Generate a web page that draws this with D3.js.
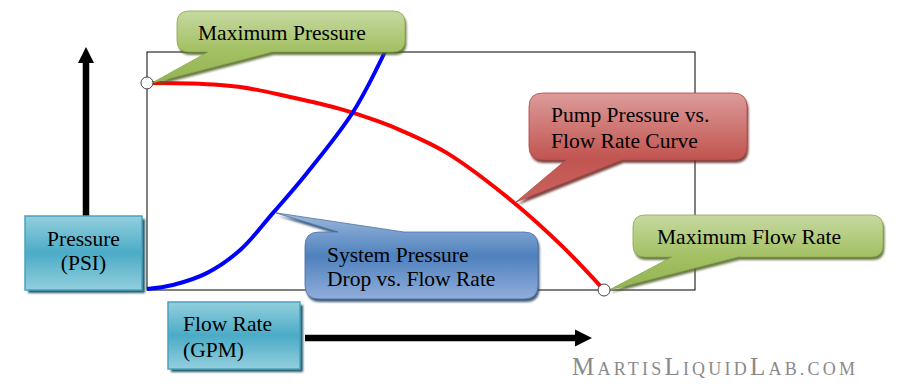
<!DOCTYPE html>
<html>
<head>
<meta charset="utf-8">
<script src="https://cdn.jsdelivr.net/npm/d3@7"></script>
<style>
  html, body { margin: 0; padding: 0; background: #fff; }
  svg { display: block; }
  text { font-family: "Liberation Serif", "Times New Roman", "DejaVu Serif", serif; }
</style>
</head>
<body>
<svg id="chart" width="900" height="391"></svg>
<script>
// ---- data (flow rate % of axis, pressure % of axis) ----
const pumpFlow     = [0, 7.8, 17.0, 26.1, 35.2, 42.5, 46.2, 54.7, 66.8, 75.9, 83.4];
const pumpPressure = [87, 86.8, 85.3, 81.1, 76.1, 70.6, 67.2, 57.6, 37.0, 18.1, 0];
const sysFlow      = [0, 4.7, 10.9, 17.0, 23.0, 29.2, 37.6, 43.4];
const sysPressure  = [0.4, 2.1, 7.1, 16.8, 32.4, 49.2, 74.8, 100];
const axisLabels   = [["Pressure", "(PSI)"], ["Flow Rate", "(GPM)"]];
const calloutTexts = [["Maximum Pressure"], ["Pump Pressure vs.", "Flow Rate Curve"],
                      ["System Pressure", "Drop vs. Flow Rate"], ["Maximum Flow Rate"]];
const watermark    = "MartisLiquidLab.com";

const svg = d3.select("#chart");
const x = d3.scaleLinear().domain([0, 100]).range([147, 695]);
const y = d3.scaleLinear().domain([0, 100]).range([290, 52]);

const pump = pumpFlow.map((f, i) => [f, pumpPressure[i]]);
const sys = sysFlow.map((f, i) => [f, sysPressure[i]]);

// ---- gradients & filters ----
const defs = svg.append("defs");
function grad(id, stops) {
  const g = defs.append("linearGradient").attr("id", id)
    .attr("x1", 0).attr("y1", 0).attr("x2", 0).attr("y2", 1);
  stops.forEach(s => g.append("stop").attr("offset", s[0]).attr("stop-color", s[1]));
}
grad("gGreen", [[0, "#c6d9a1"], [0.55, "#a3c063"], [1, "#94b452"]]);
grad("gRed",   [[0, "#dc9c9a"], [0.6, "#c25551"], [1, "#c8625f"]]);
grad("gBlue",  [[0, "#9db8dc"], [0.5, "#4f81bd"], [1, "#90addb"]]);
grad("gTeal",  [[0, "#93cfde"], [0.5, "#4babc6"], [1, "#93cfde"]]);
defs.append("filter").attr("id", "blur").append("feGaussianBlur").attr("stdDeviation", 0.8);

// ---- plot frame ----
svg.append("rect")
  .attr("x", x(0)).attr("y", y(100))
  .attr("width", x(100) - x(0)).attr("height", y(0) - y(100))
  .attr("fill", "none").attr("stroke", "#000").attr("stroke-width", 1);

// ---- axis arrows ----
function arrow(x1, y1, x2, y2) {
  svg.append("line").attr("x1", x1).attr("y1", y1).attr("x2", x2).attr("y2", y2)
    .attr("stroke", "#000").attr("stroke-width", 6.5);
}
arrow(86, 216, 86, 62);
svg.append("path").attr("d", "M86,47 L94,63 L78,63 Z").attr("fill", "#000");
arrow(305, 338, 576, 338);
svg.append("path").attr("d", "M592,338 L575,329.5 L575,346.5 Z").attr("fill", "#000");

// ---- curves ----
const line = d3.line().x(d => x(d[0])).y(d => y(d[1])).curve(d3.curveCatmullRom.alpha(0.5));
svg.append("path").datum(pump).attr("d", line)
  .attr("fill", "none").attr("stroke", "#ff0000").attr("stroke-width", 4);
svg.append("path").datum(sys).attr("d", line)
  .attr("fill", "none").attr("stroke", "#0000ff").attr("stroke-width", 4);

// ---- callouts ----
function calloutPath(bx, by, w, h, r, side, b1, b2, tip) {
  const p = d3.path();
  p.moveTo(bx + r, by);
  if (side === "top") { p.lineTo(b1, by); p.lineTo(tip[0], tip[1]); p.lineTo(b2, by); }
  p.lineTo(bx + w - r, by);
  p.quadraticCurveTo(bx + w, by, bx + w, by + r);
  p.lineTo(bx + w, by + h - r);
  p.quadraticCurveTo(bx + w, by + h, bx + w - r, by + h);
  if (side === "bottom") { p.lineTo(b2, by + h); p.lineTo(tip[0], tip[1]); p.lineTo(b1, by + h); }
  p.lineTo(bx + r, by + h);
  p.quadraticCurveTo(bx, by + h, bx, by + h - r);
  p.lineTo(bx, by + r);
  p.quadraticCurveTo(bx, by, bx + r, by);
  p.closePath();
  return p.toString();
}
function callout(o) {
  const d = calloutPath(o.x, o.y, o.w, o.h, o.r, o.side, o.b1, o.b2, o.tip);
  svg.append("path").attr("d", d).attr("transform", "translate(1.5,3)")
    .attr("fill", o.shadow).attr("opacity", 0.85).attr("filter", "url(#blur)");
  svg.append("path").attr("d", d).attr("fill", `url(#${o.grad})`)
    .attr("stroke", o.edge).attr("stroke-width", 0.8);
  const t = svg.append("text").attr("font-size", 21.5).attr("fill", "#000")
    .attr("font-family", "Liberation Serif, Times New Roman, serif");
  o.lines.forEach((s, i) => t.append("tspan").attr("x", o.tx).attr("y", o.ty + i * o.lh).text(s));
}
const tipMaxP = [x(pump[0][0]) + 5, y(pump[0][1])];
const tipMaxF = [x(pump[pump.length - 1][0]) + 5, y(pump[pump.length - 1][1])];
const tipPump = [x(pump[8][0]) + 3, y(pump[8][1])];
const tipSys  = [x(sys[4][0]) + 3, y(sys[4][1])];

callout({x: 177, y: 11, w: 228, h: 41, r: 12, side: "bottom", b1: 208, b2: 272, tip: tipMaxP,
  grad: "gGreen", shadow: "#4f6228", edge: "#8aa84c", lines: calloutTexts[0], tx: 198, ty: 40, lh: 26});
callout({x: 529, y: 93, w: 218, h: 67, r: 14, side: "bottom", b1: 566, b2: 622, tip: tipPump,
  grad: "gRed", shadow: "#632523", edge: "#b04845", lines: calloutTexts[1], tx: 551, ty: 122, lh: 26});
callout({x: 305, y: 232, w: 233, h: 67, r: 14, side: "top", b1: 338, b2: 404, tip: tipSys,
  grad: "gBlue", shadow: "#243f60", edge: "#4672a8", lines: calloutTexts[2], tx: 327, ty: 262, lh: 24});
callout({x: 633, y: 215, w: 250, h: 42, r: 12, side: "bottom", b1: 672, b2: 738, tip: tipMaxF,
  grad: "gGreen", shadow: "#4f6228", edge: "#8aa84c", lines: calloutTexts[3], tx: 657, ty: 244, lh: 26});

// ---- axis label boxes ----
function labelBox(bx, by, w, h, lines, anchor, tx, ty, lh) {
  svg.append("rect").attr("x", bx + 3).attr("y", by + 3).attr("width", w).attr("height", h)
    .attr("fill", "#215968").attr("filter", "url(#blur)");
  svg.append("rect").attr("x", bx).attr("y", by).attr("width", w).attr("height", h)
    .attr("fill", "url(#gTeal)").attr("stroke", "#4aa3bd").attr("stroke-width", 1.5);
  const t = svg.append("text").attr("font-size", 21.5).attr("fill", "#000").attr("text-anchor", anchor)
    .attr("font-family", "Liberation Serif, Times New Roman, serif");
  lines.forEach((s, i) => t.append("tspan").attr("x", tx).attr("y", ty + i * lh).text(s));
}
labelBox(25, 216, 117, 74, axisLabels[0], "middle", 83.5, 246, 24);
labelBox(168, 302, 132, 67, axisLabels[1], "start", 183, 331, 26);

// ---- endpoint markers ----
svg.selectAll("circle.end").data([pump[0], pump[pump.length - 1]]).join("circle")
  .attr("class", "end").attr("cx", d => x(d[0])).attr("cy", d => y(d[1])).attr("r", 6)
  .attr("fill", "#fff").attr("stroke", "#444").attr("stroke-width", 1);

// ---- watermark (small caps) ----
const wm = svg.append("text").attr("x", 572).attr("y", 375).attr("fill", "#8a8a8a")
  .attr("textLength", 283).attr("lengthAdjust", "spacing");
const parts = [];
let cur = null;
for (const ch of watermark) {
  const big = ch >= "A" && ch <= "Z";
  if (!cur || cur.big !== big) { cur = {big, s: ""}; parts.push(cur); }
  cur.s += ch.toUpperCase();
}
parts.forEach(p => wm.append("tspan").attr("font-size", p.big ? 25 : 18).text(p.s));
</script>
</body>
</html>
